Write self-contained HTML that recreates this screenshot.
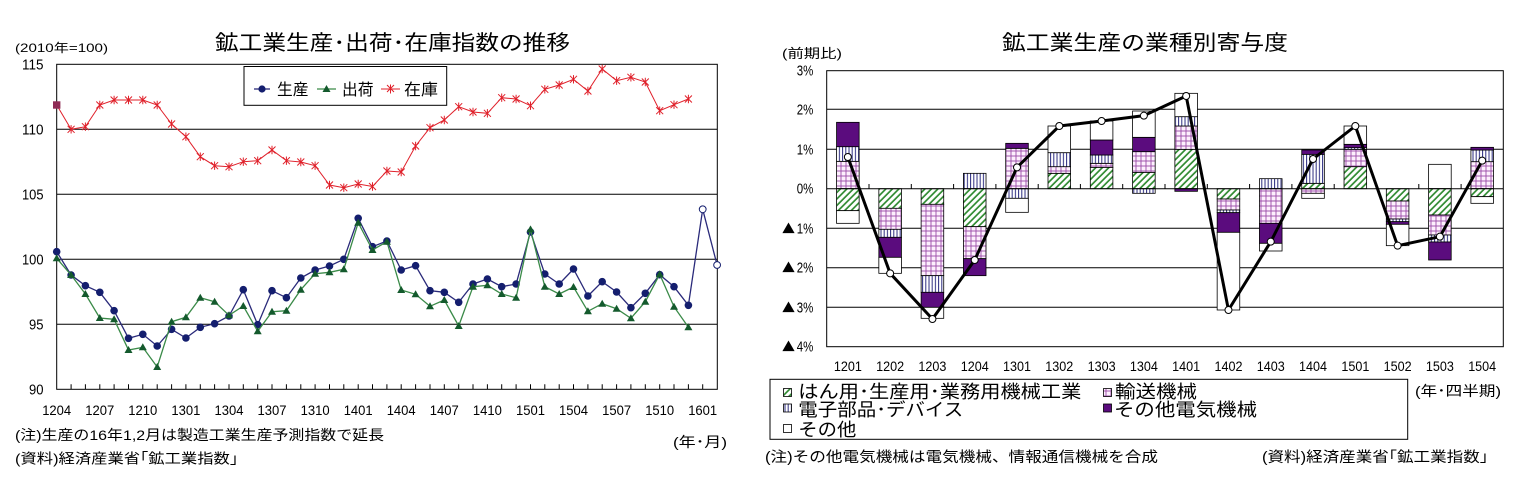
<!DOCTYPE html>
<html><head><meta charset="utf-8">
<style>
html,body{margin:0;padding:0;background:#fff;}
svg{display:block;}
text{font-family:"Liberation Sans","Noto Sans CJK JP",sans-serif;fill:#000;}
.cjk{font-family:"Noto Sans CJK JP","Liberation Sans",sans-serif;}
</style></head>
<body>
<svg width="1530" height="498" viewBox="0 0 1530 498" xmlns="http://www.w3.org/2000/svg">
<defs>
  <pattern id="pg" patternUnits="userSpaceOnUse" width="4.6" height="4.6" patternTransform="rotate(45)">
    <rect width="4.6" height="4.6" fill="#fff"/>
    <line x1="1" y1="0" x2="1" y2="4.6" stroke="#2e8a30" stroke-width="1.7"/>
  </pattern>
  <pattern id="pp" patternUnits="userSpaceOnUse" width="5" height="5" x="0.5" y="0.5">
    <rect width="5" height="5" fill="#fdf0fd"/>
    <line x1="0" y1="0.5" x2="5" y2="0.5" stroke="#9a4aa8" stroke-width="0.9"/>
    <line x1="0.5" y1="0" x2="0.5" y2="5" stroke="#9a4aa8" stroke-width="0.9"/>
  </pattern>
  <pattern id="pb" patternUnits="userSpaceOnUse" width="3.2" height="4">
    <rect width="3.2" height="4" fill="#fff"/>
    <line x1="1" y1="0" x2="1" y2="4" stroke="#2c2c80" stroke-width="1"/>
  </pattern>
  <marker id="mc" markerWidth="10" markerHeight="10" refX="5" refY="5" markerUnits="userSpaceOnUse"><circle cx="5" cy="5" r="3.8" fill="#141e6e"/></marker>
  <marker id="mo" markerWidth="10" markerHeight="10" refX="5" refY="5" markerUnits="userSpaceOnUse"><circle cx="5" cy="5" r="3.4" fill="#fff" stroke="#141e6e" stroke-width="1"/></marker>
  <marker id="mt" markerWidth="10" markerHeight="10" refX="5" refY="5.3" markerUnits="userSpaceOnUse"><path d="M5,1.3 L9,8.3 L1,8.3 Z" fill="#145a2d"/></marker>
  <marker id="ms" markerWidth="10" markerHeight="10" refX="5" refY="5" markerUnits="userSpaceOnUse"><path d="M1.5,1.5 L8.5,8.5 M8.5,1.5 L1.5,8.5 M5,0.8 L5,9.2" stroke="#e0202a" stroke-width="1"/></marker>
  <marker id="mq" markerWidth="10" markerHeight="10" refX="5" refY="5" markerUnits="userSpaceOnUse"><rect x="1.3" y="1.3" width="7.4" height="7.4" fill="#8e2b55"/></marker>
  <marker id="mw" markerWidth="10" markerHeight="10" refX="5" refY="5" markerUnits="userSpaceOnUse"><circle cx="5" cy="5" r="3.5" fill="#fff" stroke="#000" stroke-width="1"/></marker>
</defs>

<!-- ================= LEFT CHART ================= -->
<text x="215" y="50" font-size="21" textLength="355" lengthAdjust="spacingAndGlyphs">鉱工業生産･出荷･在庫指数の推移</text>
<text x="15" y="52" font-size="12" textLength="93" lengthAdjust="spacingAndGlyphs">(2010年=100)</text>

<g stroke="#000" stroke-width="1">
  <line x1="56.7" y1="129.3" x2="717.3" y2="129.3"/>
  <line x1="56.7" y1="194.3" x2="717.3" y2="194.3"/>
  <line x1="56.7" y1="259.3" x2="717.3" y2="259.3"/>
  <line x1="56.7" y1="324.3" x2="717.3" y2="324.3"/>
  <rect x="56.7" y="64.3" width="660.6" height="325" fill="none"/>
</g>
<g stroke="#000" stroke-width="1">
<path d="M71.1,389.3v-5 M85.4,389.3v-5 M99.8,389.3v-5 M114.1,389.3v-5 M128.5,389.3v-5 M142.8,389.3v-5 M157.2,389.3v-5 M171.6,389.3v-5 M185.9,389.3v-5 M200.3,389.3v-5 M214.6,389.3v-5 M229,389.3v-5 M243.3,389.3v-5 M257.7,389.3v-5 M272,389.3v-5 M286.4,389.3v-5 M300.8,389.3v-5 M315.1,389.3v-5 M329.5,389.3v-5 M343.8,389.3v-5 M358.2,389.3v-5 M372.5,389.3v-5 M386.9,389.3v-5 M401.2,389.3v-5 M415.6,389.3v-5 M430,389.3v-5 M444.3,389.3v-5 M458.7,389.3v-5 M473,389.3v-5 M487.4,389.3v-5 M501.7,389.3v-5 M516.1,389.3v-5 M530.5,389.3v-5 M544.8,389.3v-5 M559.2,389.3v-5 M573.5,389.3v-5 M587.9,389.3v-5 M602.2,389.3v-5 M616.6,389.3v-5 M630.9,389.3v-5 M645.3,389.3v-5 M659.7,389.3v-5 M674,389.3v-5 M688.4,389.3v-5 M702.7,389.3v-5"/>
</g>

<g font-size="14.5" text-anchor="end">
  <text x="43.5" y="69.5" textLength="21.5" lengthAdjust="spacingAndGlyphs">115</text>
  <text x="43.5" y="134.5" textLength="21.5" lengthAdjust="spacingAndGlyphs">110</text>
  <text x="43.5" y="199.5" textLength="21.5" lengthAdjust="spacingAndGlyphs">105</text>
  <text x="43.5" y="264.5" textLength="21.5" lengthAdjust="spacingAndGlyphs">100</text>
  <text x="43.5" y="329.5" textLength="14.5" lengthAdjust="spacingAndGlyphs">95</text>
  <text x="43.5" y="394.5" textLength="14.5" lengthAdjust="spacingAndGlyphs">90</text>
</g>
<g font-size="14" text-anchor="middle">
  <text x="56.7" y="415" textLength="29" lengthAdjust="spacingAndGlyphs">1204</text>
  <text x="99.8" y="415" textLength="29" lengthAdjust="spacingAndGlyphs">1207</text>
  <text x="142.8" y="415" textLength="29" lengthAdjust="spacingAndGlyphs">1210</text>
  <text x="185.9" y="415" textLength="29" lengthAdjust="spacingAndGlyphs">1301</text>
  <text x="229" y="415" textLength="29" lengthAdjust="spacingAndGlyphs">1304</text>
  <text x="272" y="415" textLength="29" lengthAdjust="spacingAndGlyphs">1307</text>
  <text x="315.1" y="415" textLength="29" lengthAdjust="spacingAndGlyphs">1310</text>
  <text x="358.2" y="415" textLength="29" lengthAdjust="spacingAndGlyphs">1401</text>
  <text x="401.2" y="415" textLength="29" lengthAdjust="spacingAndGlyphs">1404</text>
  <text x="444.3" y="415" textLength="29" lengthAdjust="spacingAndGlyphs">1407</text>
  <text x="487.4" y="415" textLength="29" lengthAdjust="spacingAndGlyphs">1410</text>
  <text x="530.5" y="415" textLength="29" lengthAdjust="spacingAndGlyphs">1501</text>
  <text x="573.5" y="415" textLength="29" lengthAdjust="spacingAndGlyphs">1504</text>
  <text x="616.6" y="415" textLength="29" lengthAdjust="spacingAndGlyphs">1507</text>
  <text x="659.7" y="415" textLength="29" lengthAdjust="spacingAndGlyphs">1510</text>
  <text x="702.7" y="415" textLength="29" lengthAdjust="spacingAndGlyphs">1601</text>
</g>

<!-- inventory -->
<polyline fill="none" stroke="#e0202a" stroke-width="1" marker-start="url(#mq)" marker-mid="url(#ms)" marker-end="url(#ms)"
 points="56.7,105 71.1,129.3 85.4,126.7 99.8,105 114.1,100 128.5,100 142.8,100 157.2,105 171.6,124 185.9,136.7 200.3,156.7 214.6,165.7 229,166.7 243.3,161.7 257.7,160.7 272,150 286.4,160.7 300.8,162 315.1,165.7 329.5,185 343.8,187.7 358.2,184 372.5,186.5 386.9,171 401.2,172 415.6,146 430,127.7 444.3,120 458.7,106.7 473,112 487.4,113.3 501.7,97.7 516.1,99 530.5,105.7 544.8,89.3 559.2,85 573.5,79.3 587.9,91 602.2,69 616.6,80.7 630.9,77.3 645.3,82 659.7,110.7 674,104.7 688.4,99"/>
<!-- production -->
<polyline fill="none" stroke="#2a2a7a" stroke-width="1.3"
 points="688.4,305.3 702.7,209.3 717.1,265" marker-mid="url(#mo)" marker-end="url(#mo)"/>
<polyline fill="none" stroke="#2a2a7a" stroke-width="1.3" marker-start="url(#mc)" marker-mid="url(#mc)" marker-end="url(#mc)"
 points="56.7,251.7 71.1,275 85.4,285.7 99.8,292.3 114.1,310.7 128.5,338.3 142.8,334.3 157.2,346 171.6,329.3 185.9,338 200.3,327.3 214.6,323.7 229,316 243.3,289.7 257.7,324.7 272,290.7 286.4,297.7 300.8,278 315.1,270 329.5,266 343.8,259.3 358.2,218.3 372.5,246.7 386.9,241 401.2,270 415.6,265.7 430,290.7 444.3,292.3 458.7,302.3 473,284 487.4,279 501.7,286.7 516.1,284 530.5,232 544.8,274 559.2,284 573.5,269 587.9,296 602.2,281.7 616.6,292 630.9,307.7 645.3,293.3 659.7,274.7 674,286.7 688.4,305.3"/>
<!-- shipments -->
<polyline fill="none" stroke="#3a8a48" stroke-width="1.3" marker-start="url(#mt)" marker-mid="url(#mt)" marker-end="url(#mt)"
 points="56.7,258.3 71.1,275 85.4,294 99.8,318 114.1,319.3 128.5,350 142.8,347.3 157.2,367 171.6,321.7 185.9,317.3 200.3,297.7 214.6,301.7 229,315.3 243.3,306 257.7,331.3 272,311.7 286.4,310.7 300.8,289.7 315.1,273.7 329.5,272.3 343.8,269.3 358.2,222.7 372.5,250 386.9,241.7 401.2,290 415.6,294.3 430,306.3 444.3,300 458.7,326 473,286.7 487.4,285.3 501.7,294 516.1,297.7 530.5,229.4 544.8,286.7 559.2,294 573.5,287 587.9,311.3 602.2,303.7 616.6,308.7 630.9,318.3 645.3,301.7 659.7,274.3 674,306.7 688.4,327.3"/>

<!-- left legend -->
<rect x="244" y="66.5" width="202.7" height="38.8" fill="#fff" stroke="#000" stroke-width="1"/>
<line x1="254" y1="89" x2="270" y2="89" stroke="#2a2a7a" stroke-width="1.3"/>
<circle cx="262" cy="89" r="3.6" fill="#141e6e"/>
<text x="277" y="95" font-size="16" textLength="31.5" lengthAdjust="spacingAndGlyphs">生産</text>
<line x1="317" y1="89" x2="336" y2="89" stroke="#3a8a48" stroke-width="1.3"/>
<path d="M326.5,85 L330.5,92 L322.5,92 Z" fill="#145a2d"/>
<text x="342" y="95" font-size="16" textLength="31.5" lengthAdjust="spacingAndGlyphs">出荷</text>
<line x1="381" y1="89" x2="400" y2="89" stroke="#e0202a" stroke-width="1"/>
<path d="M387,85 L394,92 M394,85 L387,92 M390.5,84.5 L390.5,93.5" stroke="#e0202a" stroke-width="1"/>
<text x="404" y="95" font-size="16" textLength="34" lengthAdjust="spacingAndGlyphs">在庫</text>

<!-- left notes -->
<text x="15" y="440" font-size="14" textLength="369" lengthAdjust="spacingAndGlyphs">(注)生産の16年1,2月は製造工業生産予測指数で延長</text>
<text x="15" y="463.5" font-size="14" textLength="223" lengthAdjust="spacingAndGlyphs">(資料)経済産業省｢鉱工業指数｣</text>
<text x="673" y="447" font-size="14" textLength="54" lengthAdjust="spacingAndGlyphs">(年･月)</text>

<!-- ================= RIGHT CHART ================= -->
<text x="1002" y="50" font-size="21" textLength="286" lengthAdjust="spacingAndGlyphs">鉱工業生産の業種別寄与度</text>
<text x="782" y="58" font-size="13" textLength="60" lengthAdjust="spacingAndGlyphs">(前期比)</text>

<g stroke="#000" stroke-width="1">
  <line x1="826.7" y1="109.3" x2="1503.3" y2="109.3"/>
  <line x1="826.7" y1="149.3" x2="1503.3" y2="149.3"/>
  <line x1="826.7" y1="228.3" x2="1503.3" y2="228.3"/>
  <line x1="826.7" y1="267.7" x2="1503.3" y2="267.7"/>
  <line x1="826.7" y1="307.3" x2="1503.3" y2="307.3"/>
  <rect x="826.7" y="70.7" width="676.6" height="276" fill="none"/>
</g>

<g font-size="14.5" text-anchor="end">
  <text x="813.3" y="75.7" textLength="16.6" lengthAdjust="spacingAndGlyphs">3%</text>
  <text x="813.3" y="114.3" textLength="16.6" lengthAdjust="spacingAndGlyphs">2%</text>
  <text x="813.3" y="154.3" textLength="16.6" lengthAdjust="spacingAndGlyphs">1%</text>
  <text x="813.3" y="193.7" textLength="16.6" lengthAdjust="spacingAndGlyphs">0%</text>
</g>
<g font-size="14.5">
  <text x="782" y="233.3"><tspan class="cjk" font-size="13">▲</tspan><tspan x="796.7" textLength="16.6" lengthAdjust="spacingAndGlyphs">1%</tspan></text>
  <text x="782" y="272.7"><tspan class="cjk" font-size="13">▲</tspan><tspan x="796.7" textLength="16.6" lengthAdjust="spacingAndGlyphs">2%</tspan></text>
  <text x="782" y="312.3"><tspan class="cjk" font-size="13">▲</tspan><tspan x="796.7" textLength="16.6" lengthAdjust="spacingAndGlyphs">3%</tspan></text>
  <text x="782" y="351.7"><tspan class="cjk" font-size="13">▲</tspan><tspan x="796.7" textLength="16.6" lengthAdjust="spacingAndGlyphs">4%</tspan></text>
</g>

<!-- bars -->
<g stroke="#000" stroke-width="0.8">
<!-- k0 -->
<rect x="836.55" y="161.33" width="22.6" height="27.34" fill="url(#pp)"/>
<rect x="836.55" y="146.67" width="22.6" height="14.66" fill="url(#pb)"/>
<rect x="836.55" y="122.33" width="22.6" height="24.34" fill="#5b0c7e"/>
<rect x="836.55" y="188.67" width="22.6" height="22" fill="url(#pg)"/>
<rect x="836.55" y="210.67" width="22.6" height="12.66" fill="#fff"/>
<!-- k1 -->
<rect x="878.84" y="188.67" width="22.6" height="19.66" fill="url(#pg)"/>
<rect x="878.84" y="208.33" width="22.6" height="21" fill="url(#pp)"/>
<rect x="878.84" y="229.33" width="22.6" height="8" fill="url(#pb)"/>
<rect x="878.84" y="237.33" width="22.6" height="20" fill="#5b0c7e"/>
<rect x="878.84" y="257.33" width="22.6" height="16" fill="#fff"/>
<!-- k2 -->
<rect x="921.13" y="188.67" width="22.6" height="15.66" fill="url(#pg)"/>
<rect x="921.13" y="204.33" width="22.6" height="71.34" fill="url(#pp)"/>
<rect x="921.13" y="275.67" width="22.6" height="16.66" fill="url(#pb)"/>
<rect x="921.13" y="292.33" width="22.6" height="15" fill="#5b0c7e"/>
<rect x="921.13" y="307.33" width="22.6" height="11" fill="#fff"/>
<!-- k3 -->
<rect x="963.42" y="173.33" width="22.6" height="15.34" fill="url(#pb)"/>
<rect x="963.42" y="188.67" width="22.6" height="38" fill="url(#pg)"/>
<rect x="963.42" y="226.67" width="22.6" height="32" fill="url(#pp)"/>
<rect x="963.42" y="258.67" width="22.6" height="17" fill="#5b0c7e"/>
<!-- k4 -->
<rect x="1005.71" y="148.33" width="22.6" height="40.34" fill="url(#pp)"/>
<rect x="1005.71" y="143.33" width="22.6" height="5" fill="#5b0c7e"/>
<rect x="1005.71" y="188.67" width="22.6" height="9.66" fill="url(#pb)"/>
<rect x="1005.71" y="198.33" width="22.6" height="14" fill="#fff"/>
<!-- k5 -->
<rect x="1048" y="173.33" width="22.6" height="15.34" fill="url(#pg)"/>
<rect x="1048" y="166.67" width="22.6" height="6.66" fill="url(#pp)"/>
<rect x="1048" y="152.67" width="22.6" height="14" fill="url(#pb)"/>
<rect x="1048" y="126" width="22.6" height="26.67" fill="#fff"/>
<!-- k6 -->
<rect x="1090.29" y="167.33" width="22.6" height="21.34" fill="url(#pg)"/>
<rect x="1090.29" y="163.33" width="22.6" height="4" fill="url(#pp)"/>
<rect x="1090.29" y="155" width="22.6" height="8.33" fill="url(#pb)"/>
<rect x="1090.29" y="140" width="22.6" height="15" fill="#5b0c7e"/>
<rect x="1090.29" y="121" width="22.6" height="19" fill="#fff"/>
<!-- k7 -->
<rect x="1132.58" y="172.33" width="22.6" height="16.34" fill="url(#pg)"/>
<rect x="1132.58" y="151.67" width="22.6" height="20.66" fill="url(#pp)"/>
<rect x="1132.58" y="137.33" width="22.6" height="14.34" fill="#5b0c7e"/>
<rect x="1132.58" y="111" width="22.6" height="26.33" fill="#fff"/>
<rect x="1132.58" y="188.67" width="22.6" height="4.66" fill="url(#pb)"/>
<!-- k8 -->
<rect x="1174.87" y="149.33" width="22.6" height="39.34" fill="url(#pg)"/>
<rect x="1174.87" y="126" width="22.6" height="23.33" fill="url(#pp)"/>
<rect x="1174.87" y="116.67" width="22.6" height="9.33" fill="url(#pb)"/>
<rect x="1174.87" y="93.33" width="22.6" height="23.34" fill="#fff"/>
<rect x="1174.87" y="188.67" width="22.6" height="2.66" fill="#5b0c7e"/>
<!-- k9 -->
<rect x="1217.16" y="188.67" width="22.6" height="10.33" fill="url(#pg)"/>
<rect x="1217.16" y="199" width="22.6" height="11" fill="url(#pp)"/>
<rect x="1217.16" y="210" width="22.6" height="2.67" fill="url(#pb)"/>
<rect x="1217.16" y="212.67" width="22.6" height="19.66" fill="#5b0c7e"/>
<rect x="1217.16" y="232.33" width="22.6" height="77.67" fill="#fff"/>
<!-- k10 -->
<rect x="1259.45" y="178.67" width="22.6" height="10" fill="url(#pb)"/>
<rect x="1259.45" y="188.67" width="22.6" height="34.66" fill="url(#pp)"/>
<rect x="1259.45" y="223.33" width="22.6" height="20" fill="#5b0c7e"/>
<rect x="1259.45" y="243.33" width="22.6" height="7.67" fill="#fff"/>
<!-- k11 -->
<rect x="1301.74" y="183.33" width="22.6" height="5.34" fill="url(#pg)"/>
<rect x="1301.74" y="154.33" width="22.6" height="29" fill="url(#pb)"/>
<rect x="1301.74" y="150" width="22.6" height="4.33" fill="#5b0c7e"/>
<rect x="1301.74" y="188.67" width="22.6" height="4.66" fill="url(#pp)"/>
<rect x="1301.74" y="193.33" width="22.6" height="5" fill="#fff"/>
<!-- k12 -->
<rect x="1344.03" y="166.67" width="22.6" height="22" fill="url(#pg)"/>
<rect x="1344.03" y="149.33" width="22.6" height="17.34" fill="url(#pp)"/>
<rect x="1344.03" y="147.67" width="22.6" height="1.66" fill="url(#pb)"/>
<rect x="1344.03" y="144.33" width="22.6" height="3.34" fill="#5b0c7e"/>
<rect x="1344.03" y="126" width="22.6" height="18.33" fill="#fff"/>
<!-- k13 -->
<rect x="1386.32" y="188.67" width="22.6" height="12.33" fill="url(#pg)"/>
<rect x="1386.32" y="201" width="22.6" height="18" fill="url(#pp)"/>
<rect x="1386.32" y="219" width="22.6" height="2.67" fill="url(#pb)"/>
<rect x="1386.32" y="221.67" width="22.6" height="2.66" fill="#5b0c7e"/>
<rect x="1386.32" y="224.33" width="22.6" height="21.34" fill="#fff"/>
<!-- k14 -->
<rect x="1428.61" y="164.33" width="22.6" height="24.34" fill="#fff"/>
<rect x="1428.61" y="188.67" width="22.6" height="26.33" fill="url(#pg)"/>
<rect x="1428.61" y="215" width="22.6" height="20" fill="url(#pp)"/>
<rect x="1428.61" y="235" width="22.6" height="7" fill="url(#pb)"/>
<rect x="1428.61" y="242" width="22.6" height="18" fill="#5b0c7e"/>
<!-- k15 -->
<rect x="1470.9" y="161.67" width="22.6" height="27" fill="url(#pp)"/>
<rect x="1470.9" y="150" width="22.6" height="11.67" fill="url(#pb)"/>
<rect x="1470.9" y="147.33" width="22.6" height="2.67" fill="#5b0c7e"/>
<rect x="1470.9" y="188.67" width="22.6" height="8" fill="url(#pg)"/>
<rect x="1470.9" y="196.67" width="22.6" height="6.66" fill="#fff"/>
</g>

<!-- zero line and ticks -->
<g stroke="#000" stroke-width="1">
  <line x1="826.7" y1="188.7" x2="1503.3" y2="188.7"/>
  <path d="M869,188.7v-4.7 M911.3,188.7v-4.7 M953.6,188.7v-4.7 M995.9,188.7v-4.7 M1038.2,188.7v-4.7 M1080.4,188.7v-4.7 M1122.7,188.7v-4.7 M1165,188.7v-4.7 M1207.3,188.7v-4.7 M1249.6,188.7v-4.7 M1291.9,188.7v-4.7 M1334.2,188.7v-4.7 M1376.5,188.7v-4.7 M1418.8,188.7v-4.7 M1461.1,188.7v-4.7"/>
</g>

<!-- total line -->
<polyline fill="none" stroke="#000" stroke-width="3" stroke-linejoin="round" marker-start="url(#mw)" marker-mid="url(#mw)" marker-end="url(#mw)"
 points="847.85,157 890.14,273.33 932.43,319 974.72,260 1017.01,167.33 1059.3,126 1101.59,121 1143.88,115.67 1186.17,96 1228.46,310 1270.75,241.67 1313.04,159 1355.33,126 1397.62,245.67 1439.91,236.67 1482.2,160.67"/>

<g font-size="14" text-anchor="middle">
  <text x="847.85" y="371" textLength="28" lengthAdjust="spacingAndGlyphs">1201</text>
  <text x="890.14" y="371" textLength="28" lengthAdjust="spacingAndGlyphs">1202</text>
  <text x="932.43" y="371" textLength="28" lengthAdjust="spacingAndGlyphs">1203</text>
  <text x="974.72" y="371" textLength="28" lengthAdjust="spacingAndGlyphs">1204</text>
  <text x="1017.01" y="371" textLength="28" lengthAdjust="spacingAndGlyphs">1301</text>
  <text x="1059.3" y="371" textLength="28" lengthAdjust="spacingAndGlyphs">1302</text>
  <text x="1101.59" y="371" textLength="28" lengthAdjust="spacingAndGlyphs">1303</text>
  <text x="1143.88" y="371" textLength="28" lengthAdjust="spacingAndGlyphs">1304</text>
  <text x="1186.17" y="371" textLength="28" lengthAdjust="spacingAndGlyphs">1401</text>
  <text x="1228.46" y="371" textLength="28" lengthAdjust="spacingAndGlyphs">1402</text>
  <text x="1270.75" y="371" textLength="28" lengthAdjust="spacingAndGlyphs">1403</text>
  <text x="1313.04" y="371" textLength="28" lengthAdjust="spacingAndGlyphs">1404</text>
  <text x="1355.33" y="371" textLength="28" lengthAdjust="spacingAndGlyphs">1501</text>
  <text x="1397.62" y="371" textLength="28" lengthAdjust="spacingAndGlyphs">1502</text>
  <text x="1439.91" y="371" textLength="28" lengthAdjust="spacingAndGlyphs">1503</text>
  <text x="1482.2" y="371" textLength="28" lengthAdjust="spacingAndGlyphs">1504</text>
</g>

<!-- right legend -->
<rect x="770" y="379.3" width="637.7" height="60" fill="#fff" stroke="#000" stroke-width="1"/>
<g stroke="#000" stroke-width="0.8">
  <rect x="783.5" y="388.5" width="8" height="8" fill="url(#pg)"/>
  <rect x="783.5" y="404" width="8" height="8" fill="url(#pb)"/>
  <rect x="783.5" y="424.5" width="8" height="8" fill="#fff"/>
  <rect x="1103.5" y="388.5" width="8" height="8" fill="url(#pp)"/>
  <rect x="1103.5" y="404" width="8" height="8" fill="#5b0c7e"/>
</g>
<g font-size="18">
  <text x="798.3" y="398" textLength="283" lengthAdjust="spacingAndGlyphs">はん用･生産用･業務用機械工業</text>
  <text x="798.3" y="416" textLength="165" lengthAdjust="spacingAndGlyphs">電子部品･デバイス</text>
  <text x="798.3" y="436" textLength="58" lengthAdjust="spacingAndGlyphs">その他</text>
  <text x="1115" y="398" textLength="82" lengthAdjust="spacingAndGlyphs">輸送機械</text>
  <text x="1114" y="416" textLength="143" lengthAdjust="spacingAndGlyphs">その他電気機械</text>
</g>
<text x="1415" y="396" font-size="14" textLength="86" lengthAdjust="spacingAndGlyphs">(年･四半期)</text>

<!-- right notes -->
<text x="765" y="462" font-size="14.5" textLength="393" lengthAdjust="spacingAndGlyphs">(注)その他電気機械は電気機械、情報通信機械を合成</text>
<text x="1262" y="462" font-size="14.5" textLength="226" lengthAdjust="spacingAndGlyphs">(資料)経済産業省｢鉱工業指数｣</text>
</svg>
</body></html>
